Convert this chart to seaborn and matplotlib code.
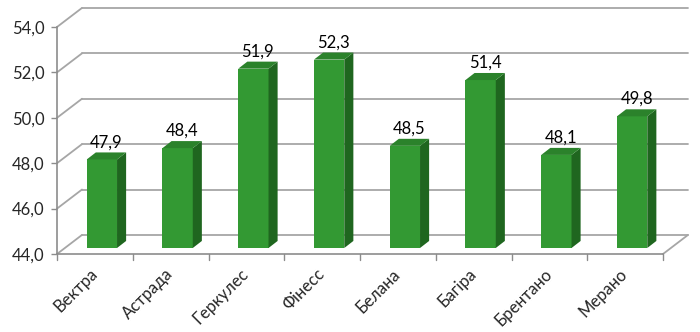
import matplotlib
matplotlib.use("Agg")
import matplotlib.pyplot as plt
import matplotlib.transforms as mtransforms
from matplotlib.patches import Polygon
from matplotlib.lines import Line2D
import seaborn as sns
import pandas as pd

categories = ["Вектра", "Астрада", "Геркулес", "Фінесс", "Белана", "Багіра", "Брентано", "Мерано"]
values = [47.9, 48.4, 51.9, 52.3, 48.5, 51.4, 48.1, 49.8]
yticks = [44, 46, 48, 50, 52, 54]

sns.set_style("white")
plt.rcParams["font.family"] = ["Lato", "DejaVu Sans"]

FRONT = "#339933"
SIDE = "#1f661f"
TOP = "#2b822b"
GRID = "#a6a6a6"
AXC = "#8c8c8c"
FS = 12

fig = plt.figure(figsize=(7, 3.32), dpi=100)
ax = fig.add_axes([57 / 700, 78 / 332, 606 / 700, 227 / 332])

df = pd.DataFrame({"cat": categories, "val": values})
sns.barplot(data=df, x="cat", y="val", color=FRONT, width=0.4, saturation=1,
            ax=ax, zorder=3)
ax.set_xlim(-0.5, len(categories) - 0.5)
ax.set_ylim(yticks[0], yticks[-1])

# depth geometry in data units
wall_dx, wall_dy = 0.33, 0.84      # back wall offset
bar_dx, bar_dy = 0.12, 0.31        # bar depth
shift = mtransforms.ScaledTranslation(7 / 100, 6 / 100, fig.dpi_scale_trans)
btrans = ax.transData + shift

x0, x1 = ax.get_xlim()
base = yticks[0]

# back wall and left wall gridlines
for y in yticks:
    ax.add_line(Line2D([x0 + wall_dx, x1 + wall_dx], [y + wall_dy, y + wall_dy],
                       color=GRID, lw=1.3, clip_on=False, zorder=1))
    ax.add_line(Line2D([x0, x0 + wall_dx], [y, y + wall_dy],
                       color=GRID, lw=1.3, clip_on=False, zorder=1))
# floor right edge
ax.add_line(Line2D([x1, x1 + wall_dx], [base, base + wall_dy],
                   color=GRID, lw=1.3, clip_on=False, zorder=1))

for p, v in zip(ax.patches, values):
    p.set_y(base)
    p.set_height(v - base)
    p.set_transform(btrans)
    p.set_clip_on(False)
    p.set_edgecolor("none")
    l = p.get_x()
    r = l + p.get_width()
    side = Polygon([(r, base), (r + bar_dx, base + bar_dy), (r + bar_dx, v + bar_dy), (r, v)],
                   closed=True, facecolor=SIDE, edgecolor="none", transform=btrans,
                   clip_on=False, zorder=3)
    top = Polygon([(l, v), (r, v), (r + bar_dx, v + bar_dy), (l + bar_dx, v + bar_dy)],
                  closed=True, facecolor=TOP, edgecolor="none", transform=btrans,
                  clip_on=False, zorder=3)
    ax.add_patch(side)
    ax.add_patch(top)
    ax.text(l + p.get_width() / 2 + bar_dx / 2, v + bar_dy + 0.1, f"{v:.1f}".replace(".", ","),
            ha="center", va="bottom", fontsize=FS, color="#000000", transform=btrans,
            zorder=4)

ax.set_yticks(yticks)
ax.set_yticklabels([f"{t:.1f}".replace(".", ",") for t in yticks], fontsize=FS)
ax.set_xticks(range(len(categories)))
ax.set_xticklabels(categories, rotation=45, ha="right", va="center",
                   rotation_mode="anchor", fontsize=FS)
ax.tick_params(axis="x", length=0, pad=12.5)
ax.tick_params(axis="y", length=4, width=1, color=AXC, pad=5, left=True)
# category boundary ticks
for b in [i - 0.5 for i in range(len(categories) + 1)]:
    ax.add_line(Line2D([b, b], [0, -0.026], transform=ax.get_xaxis_transform(),
                       color=AXC, lw=1, clip_on=False))
ax.set_xlabel("")
ax.set_ylabel("")
for s in ["top", "right"]:
    ax.spines[s].set_visible(False)
for s in ["left", "bottom"]:
    ax.spines[s].set_color(AXC)
    ax.spines[s].set_linewidth(1.2)
ax.patch.set_alpha(0)

fig.savefig("out.png", dpi=100)
